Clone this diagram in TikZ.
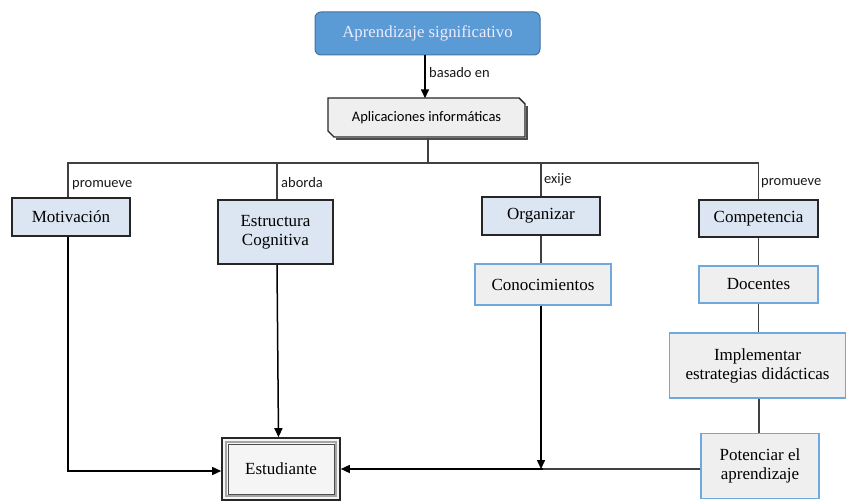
\documentclass[tikz,border=0pt]{standalone}
\usepackage{fontspec}
\setmainfont{Liberation Serif}
\newfontfamily\lblfont{Carlito}
\usetikzlibrary{arrows.meta}
\definecolor{topfill}{HTML}{5B9BD5}
\definecolor{topdraw}{HTML}{41719C}
\definecolor{lightblue}{HTML}{DCE6F2}
\definecolor{lightgray}{HTML}{EFEFEF}
\definecolor{blueedge}{HTML}{6FA8DC}
\definecolor{connc}{HTML}{404040}
\tikzset{
  x=1pt, y=-1pt,
  bbox/.style={draw=black!85, line width=1.6pt, fill=lightblue, font=\fontsize{17}{19}\selectfont, align=center, inner sep=0pt},
  gbox/.style={draw=blueedge, line width=1.3pt, fill=lightgray, font=\fontsize{17}{19}\selectfont, align=center, inner sep=0pt},
  conn/.style={draw=connc, line width=1.1pt},
  arr/.style={draw=black, line width=1.5pt, -{Triangle[length=9pt,width=8pt]}},
  lbl/.style={font=\lblfont\fontsize{14.5}{16}\selectfont, inner sep=0pt, anchor=west, text=black!90},
}
\begin{document}
\begin{tikzpicture}
\useasboundingbox (0,0) rectangle (846,502);
% top node
\node[draw=topdraw, line width=1pt, fill=topfill, rounded corners=6pt, minimum width=225pt, minimum height=43pt, text=white!92!blue, font=\fontsize{16.8}{18}\selectfont] (top) at (427.5,33.5) {Aprendizaje significativo};
% aplicaciones shape
\draw[draw=black!85, line width=1.4pt, fill=lightgray] (328,98) -- (519,98) -- (525,104) -- (525,137) -- (334,137) -- (328,131) -- cycle;
\draw[draw=black!70, line width=1.2pt] (527,106) -- (527,139) -- (336,139);
\node[font=\lblfont\fontsize{14.5}{16}\selectfont, minimum width=197pt, minimum height=39pt, inner sep=0pt] (apl) at (426.5,118) {Aplicaciones informáticas};
\draw[arr] (top.south -| 425,0) -- (apl.north -| 425,0);
\node[lbl] (lb0) at (429,73) {basado en};
% level boxes
\node[bbox, minimum width=118pt, minimum height=38pt] (mot) at (71,217) {Motivación};
\node[bbox, minimum width=115pt, minimum height=64pt] (est) at (275.5,232) {Estructura\\Cognitiva};
\node[bbox, minimum width=118pt, minimum height=38pt] (org) at (541,216) {Organizar};
\node[bbox, minimum width=119pt, minimum height=37pt] (comp) at (758.5,218.5) {Competencia};
\node[gbox, minimum width=136pt, minimum height=41pt] (con) at (543,284.5) {Conocimientos};
\node[gbox, minimum width=119pt, minimum height=37pt] (doc) at (758.5,284.5) {Docentes};
\node[gbox, minimum width=176pt, minimum height=65pt] (imp) at (757.5,365.5) {Implementar\\estrategias didácticas};
\node[gbox, minimum width=118pt, minimum height=65pt] (pot) at (760,466) {Potenciar el\\aprendizaje};
% estudiante double frame
\node[draw=black!85, line width=1.6pt, fill=white!96!black, minimum width=118pt, minimum height=62pt, font=\fontsize{17}{19}\selectfont] (estud) at (281,469) {Estudiante};
\draw[draw=black!35, line width=2.2pt] ([shift={(5,-5)}]estud.south west) rectangle ([shift={(-5,5)}]estud.north east);
\draw[draw=black!70, line width=0.6pt] ([shift={(7,-7)}]estud.south west) rectangle ([shift={(-7,7)}]estud.north east);
% bus
\coordinate (bus) at (428,163);
\draw[conn] (apl.south -| bus) -- (bus);
\draw[conn] ([xshift=-3pt]mot.north) -- ([xshift=-3pt]mot.north |- bus) -- (comp.north |- bus) -- (comp.north);
\draw[conn] ([xshift=1.5pt]est.north) -- ([xshift=1.5pt]est.north |- bus);
\draw[conn] (org.north) -- (org.north |- bus);
\node[lbl] (lb1) at (72,185) {promueve};
\node[lbl] (lb2) at (281,183) {aborda};
\node[lbl] (lb3) at (544,180) {exije};
\node[lbl] (lb4) at (761,183) {promueve};
% inner connectors
\draw[conn] (org.south) -- (org.south |- con.north);
\draw[conn] (comp.south) -- (doc.north);
\draw[conn] (doc.south) -- (doc.south |- imp.north);
\draw[conn] (imp.south -| 759,0) -- (pot.north -| 759,0);
% arrows to estudiante
\draw[arr] ([xshift=-3pt]mot.south) |- ([yshift=-2pt]estud.west);
\draw[arr] ([xshift=1.5pt]est.south) -- ([xshift=-2.5pt]estud.north);
\draw[conn, line width=1.5pt] (pot.west |- estud.east) -- (estud.east -| con.south);
\draw[arr] (estud.east -| con.south) -- (estud.east);
\draw[arr] ([xshift=-2pt]con.south) -- ([xshift=-2pt]con.south |- estud.east);
\end{tikzpicture}
\end{document}
